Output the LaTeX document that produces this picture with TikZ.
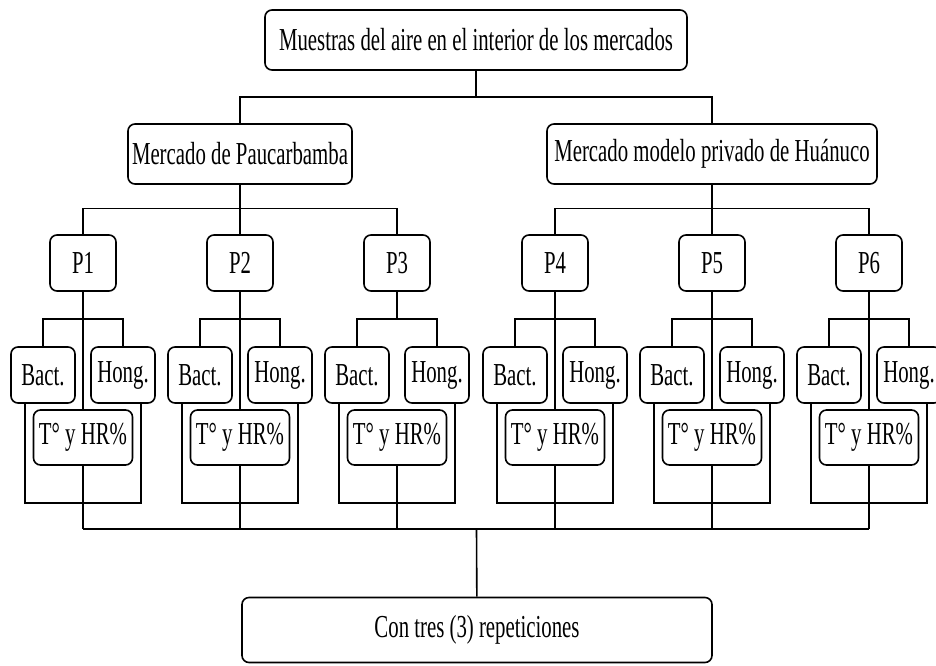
\documentclass[tikz,border=0pt]{standalone}
\usepackage{fontspec}
\setmainfont[FakeStretch=0.65]{Liberation Serif}
\usepackage{tikz}
\usetikzlibrary{trees}

\begin{document}
\begin{tikzpicture}[x=1pt, y=1pt, line width=1.6pt,
  level 1/.style={level distance=114pt, sibling distance=472pt},
  level 2/.style={level distance=109pt, sibling distance=157pt},
  level 3/.style={level distance=112pt, sibling distance=80pt},
  edge from parent fork down,
  every node/.style={align=center, font=\fontsize{32}{38}\selectfont},
  box/.style={draw, rounded corners=7pt, inner sep=2pt, minimum height=60pt},
  pbox/.style={box, minimum width=66pt, minimum height=56pt},
  labbox/.style={box, minimum width=64pt, minimum height=56pt},
  tbox/.style={box, minimum width=99pt, minimum height=55pt}]
\useasboundingbox (0,0) rectangle (936,-665);
\node[box, minimum width=422pt] (muestras) at (476,-40) {Muestras del aire en el interior de los mercados}
  child {node[box, minimum width=224pt] (paucar) {Mercado de Paucarbamba}
    child {node[pbox] (p1) {P1}
      child {node[labbox] (b1) {Bact.}}
      child {node[labbox] (h1) {Hong.}}
    }
    child {node[pbox] (p2) {P2}
      child {node[labbox] (b2) {Bact.}}
      child {node[labbox] (h2) {Hong.}}
    }
    child {node[pbox] (p3) {P3}
      child {node[labbox] (b3) {Bact.}}
      child {node[labbox] (h3) {Hong.}}
    }
  }
  child {node[box, minimum width=330pt] (modelo) {Mercado modelo privado de Huánuco}
    child {node[pbox] (p4) {P4}
      child {node[labbox] (b4) {Bact.}}
      child {node[labbox] (h4) {Hong.}}
    }
    child {node[pbox] (p5) {P5}
      child {node[labbox] (b5) {Bact.}}
      child {node[labbox] (h5) {Hong.}}
    }
    child {node[pbox] (p6) {P6}
      child {node[labbox] (b6) {Bact.}}
      child {node[labbox] (h6) {Hong.}}
    }
  };
\coordinate (bus) at (476.5,-529);
\foreach \i in {1,...,6} {
  \node[tbox] (t\i) at ([yshift=-174.5pt]p\i) {T° y HR\%};
  \draw ([xshift=15pt]b\i.south west) -- ++(0,-99pt) -| ([xshift=-15pt]h\i.south east);
  \draw (t\i.south) -- (t\i.south |- bus);
}
\foreach \i in {1,2,4,5,6}
  \draw (p\i) -- (t\i);
\draw (t1.south |- bus) -- (t6.south |- bus);
\node[box, minimum width=470pt, minimum height=65pt] (repet) at (477,-630) {Con tres (3) repeticiones};
\draw (bus) -- (repet);
\end{tikzpicture}
\end{document}
